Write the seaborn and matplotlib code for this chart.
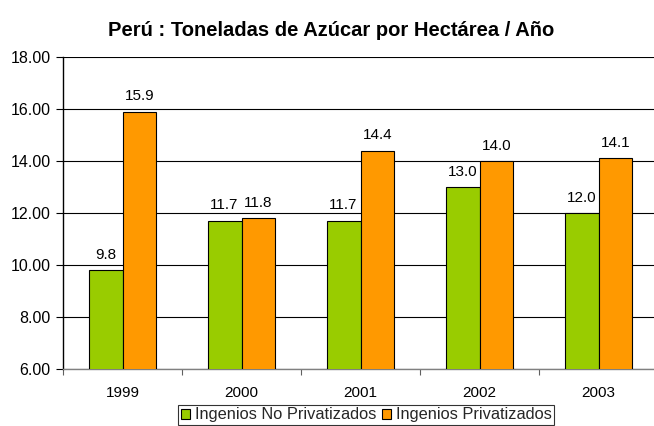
import matplotlib
matplotlib.use("Agg")
import matplotlib.pyplot as plt
import seaborn as sns
import pandas as pd
from matplotlib.ticker import FixedLocator, FormatStrFormatter

sns.set_theme(style="white")
plt.rcParams['font.family'] = ['Liberation Sans', 'DejaVu Sans']

years = ["1999", "2000", "2001", "2002", "2003"]
no_priv = [9.8, 11.7, 11.7, 13.0, 12.0]
priv = [15.9, 11.8, 14.4, 14.0, 14.1]
series = ["Ingenios No Privatizados", "Ingenios Privatizados"]
colors = ["#99CC00", "#FF9900"]

df = pd.DataFrame({
    "year": years * 2,
    "value": no_priv + priv,
    "serie": [series[0]] * len(years) + [series[1]] * len(years),
})

fig = plt.figure(figsize=(6.54, 4.26), dpi=100)
ax = fig.add_axes([63/654, 1 - 369/426, 595/654, 312/426])

sns.barplot(data=df, x="year", y="value", hue="serie", palette=colors,
            width=0.57, ax=ax, edgecolor="black", linewidth=0.8,
            saturation=1, legend=True, zorder=3)

ax.set_ylim(6, 18)
ax.set_xlim(-0.5, 4.5)
ax.yaxis.set_major_locator(FixedLocator([6, 8, 10, 12, 14, 16, 18]))
ax.yaxis.set_major_formatter(FormatStrFormatter("%.2f"))
ax.grid(axis="y", color="black", linewidth=0.8, zorder=0)
ax.set_axisbelow(True)
ax.set_xlabel("")
ax.set_ylabel("")

for s in ["top", "right"]:
    ax.spines[s].set_visible(False)
ax.spines["left"].set_color("black")
ax.spines["left"].set_linewidth(1)
ax.spines["bottom"].set_color("#808080")
ax.spines["bottom"].set_linewidth(1)

ax.tick_params(axis="y", which="major", direction="out", length=5, width=0.8,
               color="black", labelsize=11.5, labelcolor="black", left=True, pad=4)
ax.tick_params(axis="x", which="major", length=0, labelsize=11, labelcolor="black", pad=12)
ax.xaxis.set_minor_locator(FixedLocator([-0.5, 0.5, 1.5, 2.5, 3.5]))
ax.tick_params(axis="x", which="minor", direction="out", length=4, width=0.8,
               color="#606060", bottom=True)

for cont in ax.containers:
    ax.bar_label(cont, fmt="%.1f", padding=6, fontsize=11, color="black")

ax.get_legend().remove()
handles = [plt.Rectangle((0, 0), 1, 1, facecolor=c, edgecolor="black", linewidth=0.8) for c in colors]
leg = fig.legend(handles, series, loc="center", bbox_to_anchor=(366/654, 1 - 415/426),
                 ncol=2, frameon=True, fontsize=11.8, handlelength=0.6, handleheight=0.6,
                 handletextpad=0.25, columnspacing=0.35, borderpad=0.15, fancybox=False,
                 borderaxespad=0)
leg.get_frame().set_edgecolor("black")
leg.get_frame().set_linewidth(0.8)

fig.text(331/654, 1 - 31/426, "Perú : Toneladas de Azúcar por Hectárea / Año",
         ha="center", va="center", fontsize=14.5, fontweight="bold", color="black")

fig.savefig("out.png", dpi=100)
